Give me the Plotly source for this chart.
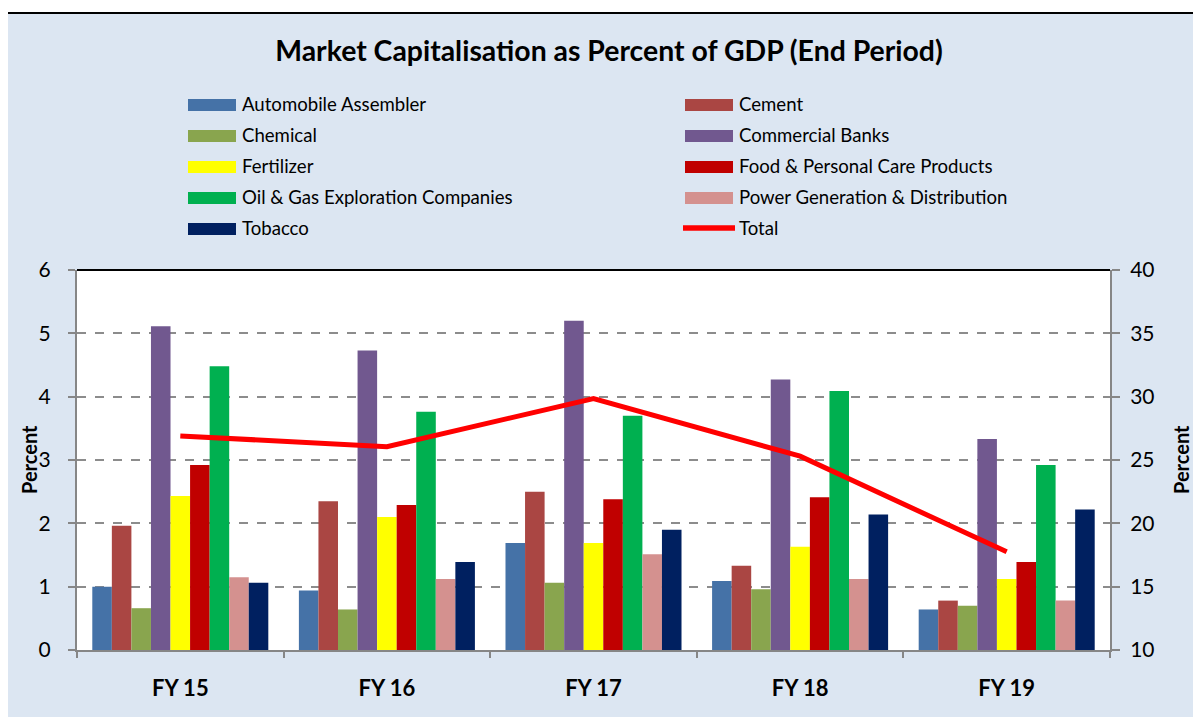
import plotly.graph_objects as go

categories = ["FY 15", "FY 16", "FY 17", "FY 18", "FY 19"]

series_names = [
    "Automobile Assembler", "Cement", "Chemical", "Commercial Banks",
    "Fertilizer", "Food & Personal Care Products",
    "Oil & Gas Exploration Companies", "Power Generation & Distribution", "Tobacco",
]
automobile = [1.00, 0.94, 1.69, 1.09, 0.64]
cement = [1.96, 2.35, 2.50, 1.33, 0.78]
chemical = [0.66, 0.64, 1.06, 0.96, 0.70]
banks = [5.11, 4.73, 5.20, 4.27, 3.33]
fertilizer = [2.43, 2.10, 1.69, 1.63, 1.12]
food = [2.92, 2.29, 2.38, 2.41, 1.39]
oil_gas = [4.48, 3.76, 3.70, 4.09, 2.92]
power = [1.15, 1.12, 1.51, 1.12, 0.78]
tobacco = [1.06, 1.39, 1.90, 2.14, 2.22]
total = [26.9, 26.05, 29.85, 25.3, 17.75]

series_values = [automobile, cement, chemical, banks, fertilizer, food, oil_gas, power, tobacco]
colors = ["#4572A7", "#AA4643", "#89A54E", "#71588F", "#FFFF00",
          "#C00000", "#00B050", "#D4918F", "#002060"]
total_color = "#FF0000"

left_ticks = [0, 1, 2, 3, 4, 5, 6]
right_ticks = [10, 15, 20, 25, 30, 35, 40]

FONT = "Lato"
OFF = 8  # page body margin
W, H = 1201 - OFF, 717 - OFF
L, R, T, B = 77 - OFF, 91, 270 - OFF, 67
PW, PH = W - L - R, H - T - B


def px(x):
    return (x - OFF - L) / PW


def py(y):
    return (H - B - (y - OFF)) / PH


fig = go.Figure()
for name, vals, col in zip(series_names, series_values, colors):
    fig.add_trace(go.Bar(x=categories, y=vals, name=name, marker=dict(color=col, line=dict(width=0)),
                         showlegend=False))
fig.add_trace(go.Scatter(x=categories, y=total, name="Total", mode="lines", yaxis="y2",
                         line=dict(color=total_color, width=5), showlegend=False))

shapes = [
    # outer chart frame
    dict(type="rect", xref="paper", yref="paper", x0=px(7), x1=px(1215), y0=py(730), y1=py(13),
         fillcolor="#DCE6F2", line=dict(color="#000000", width=2), layer="below"),
    # plot area background
    dict(type="rect", xref="paper", yref="paper", x0=0, x1=1, y0=0, y1=1,
         fillcolor="#FFFFFF", line=dict(width=0), layer="below"),
    # top border of the plot area
    dict(type="line", xref="paper", yref="paper", x0=0, x1=1, y0=1, y1=1,
         line=dict(color="#000000", width=2), layer="above"),
]
annotations = []

# legend (two columns, row-major order)
legend_names = series_names + ["Total"]
legend_colors = colors + [total_color]
col_x = [188, 685]
row_y = [105, 136, 167, 198, 229]
for i, (name, col) in enumerate(zip(legend_names, legend_colors)):
    cx = col_x[i % 2]
    ry = row_y[i // 2]
    if name == "Total":
        shapes.append(dict(type="line", xref="paper", yref="paper", x0=px(cx - 2), x1=px(cx + 50),
                           y0=py(ry - 1), y1=py(ry - 1), line=dict(color=col, width=5.5)))
    else:
        shapes.append(dict(type="rect", xref="paper", yref="paper", x0=px(cx), x1=px(cx + 48),
                           y0=py(ry + 6), y1=py(ry - 6), fillcolor=col, line=dict(width=0)))
    annotations.append(dict(xref="paper", yref="paper", x=px(cx + 52), y=py(ry - 1), text=name,
                            showarrow=False, xanchor="left", yanchor="middle",
                            font=dict(family=FONT, size=18.6, color="#000000")))

# axis titles
annotations.append(dict(xref="paper", yref="paper", x=px(29), y=py(460), text="<b>Percent</b>",
                        textangle=-90, showarrow=False, xanchor="center", yanchor="middle",
                        font=dict(family=FONT, size=20, color="#000000")))
annotations.append(dict(xref="paper", yref="paper", x=px(1181), y=py(460), text="<b>Percent</b>",
                        textangle=-90, showarrow=False, xanchor="center", yanchor="middle",
                        font=dict(family=FONT, size=20, color="#000000")))

fig.update_layout(
    width=W, height=H,
    margin=dict(l=L, r=R, t=T, b=B, pad=0),
    paper_bgcolor="#FFFFFF", plot_bgcolor="rgba(0,0,0,0)",
    barmode="group", bargap=0.148, bargroupgap=0,
    showlegend=False,
    title=dict(text="<b>Market Capitalisation as Percent of GDP (End Period)</b>",
               x=(609 - OFF) / W, xanchor="center", xref="container",
               y=1 - (51 - OFF) / H, yanchor="middle", yref="container",
               font=dict(family=FONT, size=28.4, color="#000000")),
    xaxis=dict(type="category", categoryorder="array", categoryarray=categories,
               showline=True, linecolor="#868686", linewidth=2,
               ticks="outside", ticklen=6, tickcolor="#868686", tickwidth=2,
               tickson="boundaries", showgrid=False, ticklabelstandoff=18,
               tickfont=dict(family=FONT, size=22, color="#000000", weight="bold")),
    yaxis=dict(range=[0, 6], tickvals=left_ticks, showline=True, linecolor="#868686", linewidth=2,
               ticks="outside", ticklen=7, tickcolor="#868686", tickwidth=2,
               showgrid=True, gridcolor="#8C8C8C", gridwidth=1.5, griddash="dash",
               zeroline=False, ticklabelstandoff=13,
               tickfont=dict(family=FONT, size=21, color="#000000")),
    yaxis2=dict(range=[10, 40], tickvals=right_ticks, overlaying="y", side="right",
                showline=True, linecolor="#868686", linewidth=2,
                ticks="outside", ticklen=8, tickcolor="#868686", tickwidth=2,
                showgrid=False, zeroline=False, ticklabelstandoff=6,
                tickfont=dict(family=FONT, size=21, color="#000000")),
    shapes=shapes,
    annotations=annotations,
)

fig.write_html("out.html")
